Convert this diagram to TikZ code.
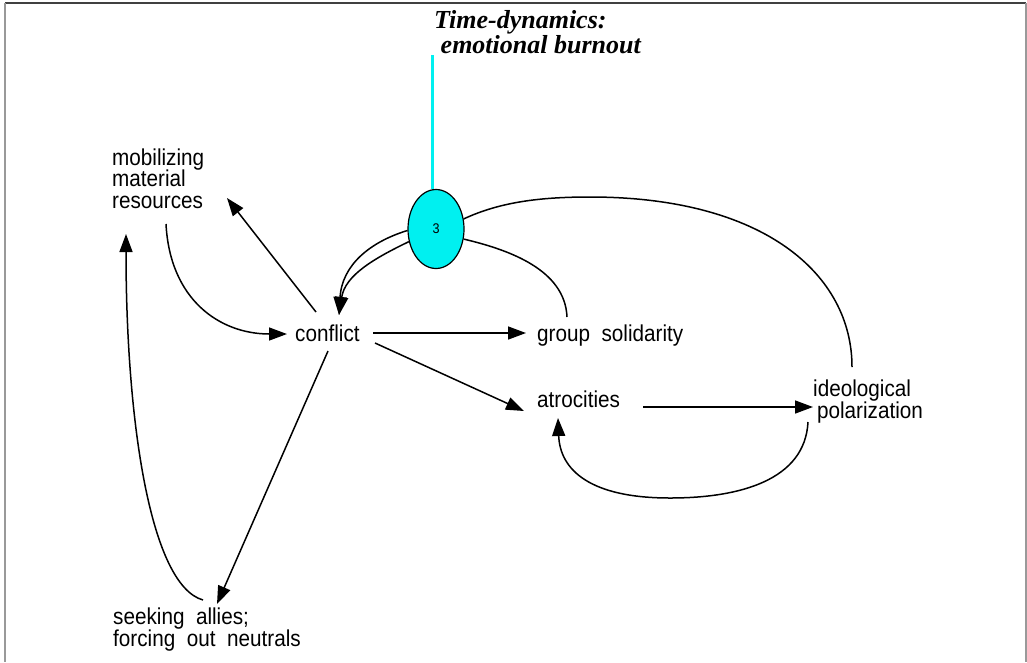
\documentclass[tikz,border=0pt]{standalone}
\usepackage{fontspec}
\setmainfont[FakeStretch=0.9]{Liberation Sans}
\newfontfamily\titlefont{Liberation Serif}
\usetikzlibrary{arrows.meta,shapes.geometric}
\definecolor{aqua}{RGB}{0,240,240}
\begin{document}
\begin{tikzpicture}[x=1pt,y=-1pt,
  lbl/.style={anchor=base west,inner sep=0pt,align=left,font=\fontsize{23}{21.5}\selectfont},
  conn/.style={line width=1.5pt,-{Triangle[length=18pt,width=13pt]}},
  plain/.style={line width=1.5pt}]
\useasboundingbox (0,0) rectangle (1027,662);
% frame
\draw[line width=2pt,black!75] (5,3) -- (1026,3);
\draw[line width=1.5pt,black!40] (5,3) -- (5,662);
\draw[line width=1.5pt,black!40] (1026,3) -- (1026,662);
% title
\node[anchor=base west,inner sep=0pt,align=left,font=\titlefont\bfseries\itshape\fontsize{26}{23}\selectfont] (title) at (434,53) {Time-dynamics:\\\ emotional burnout};
% ellipse
\node[ellipse,draw,line width=1.2pt,fill=aqua,minimum width=56pt,minimum height=79pt,inner sep=0pt,font=\fontsize{14}{14}\selectfont] (e3) at (436,229) {3};
\coordinate (ttop) at (432,55);
\draw[aqua,line width=3pt] (ttop) -- ([xshift=-4pt]e3.north);
% labels
\node[lbl] (mob) at (112,208) {mobilizing\\material\\resources};
\node[lbl] (conf) at (295,341) {conflict};
\node[lbl] (grp) at (537,341) {group\ \ solidarity};
\node[lbl] (atr) at (537,407) {atrocities};
\node[lbl] (ideo) at (813,418) {ideological\\\,polarization};
\node[lbl] (seek) at (113,646) {seeking\ \ allies;\\forcing\ \ out\ \ neutrals};
% connector end points
\coordinate (c1) at (316,312); \coordinate (m1) at (227,198);
\coordinate (m2) at (166,224); \coordinate (c2) at (287,334);
\coordinate (s1) at (203,600); \coordinate (m3) at (126,234);
\coordinate (c3) at (328,351); \coordinate (s2) at (217,604);
\coordinate (c4) at (373,333); \coordinate (g1) at (526,333);
\coordinate (c5) at (375,343); \coordinate (a1) at (524,411);
\coordinate (a2) at (643,407); \coordinate (p1) at (813,407);
\coordinate (p2) at (808,422); \coordinate (a3) at (558,418);
\coordinate (p3) at (852,367);
\coordinate (g2) at (567,317);
\coordinate (c6) at (339,315);
% connectors
\draw[conn] (c1) -- (m1);
\draw[conn] (m2) .. controls (170,300) and (220,334) .. (c2);
\draw[conn] (s1) .. controls (150,585) and (126,420) .. (m3);
\draw[conn] (c3) -- (s2);
\draw[conn] (c4) -- (g1);
\draw[conn] (c5) -- (a1);
\draw[conn] (a2) -- (p1);
\draw[conn] (p2) .. controls (805,480) and (740,498) .. (670,498) .. controls (590,498) and (560,470) .. (a3);
\draw[plain] (p3) .. controls (852,275) and (765,197) .. (590,197) .. controls (540,197) and (500,202) .. (e3.20);
\draw[plain] (g2) .. controls (565,270) and (510,250) .. (e3.-20);
\draw[conn] (e3.183) .. controls (370,242) and (342,265) .. (c6);
\draw[conn] (e3.205) .. controls (375,258) and (345,275) .. (c6);
\end{tikzpicture}
\end{document}
